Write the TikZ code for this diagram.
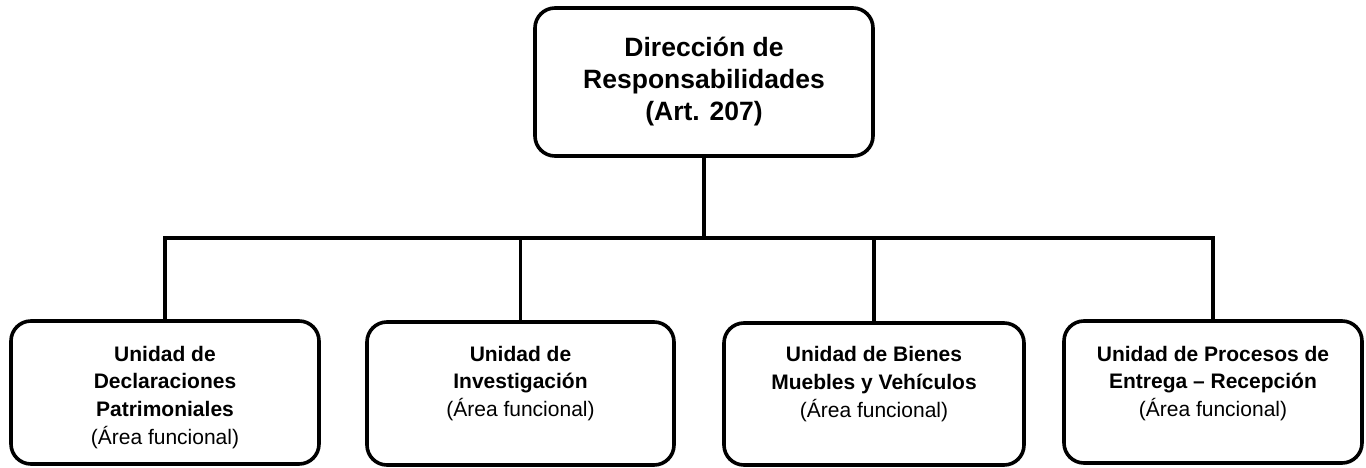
\documentclass[tikz,border=0pt]{standalone}
\usepackage{fontspec}
\setmainfont{Liberation Sans}
\begin{document}
\begin{tikzpicture}[x=1pt,y=-1pt,
  boxst/.style={draw=black, line width=3.6pt, rounded corners=20pt, inner sep=0pt},
  topfont/.style={font=\fontsize{26.5}{32}\selectfont\bfseries, align=center},
  unitfont/.style={font=\fontsize{21}{27.7}\selectfont, align=center, inner sep=0pt, anchor=north},
  conn/.style={line width=3.6pt, line join=miter}]
\useasboundingbox (0,0) rectangle (1366,468);
\fill[white] (0,0) rectangle (1366,468);

\node[boxst, topfont, minimum width=338pt, minimum height=148pt] (top) at (704,82)
  {Dirección de\\Responsabilidades\\(Art. 207)};

\node[boxst, minimum width=308pt, minimum height=143pt] (b1) at (165,392.5) {};
\node[boxst, minimum width=307pt, minimum height=143pt] (b2) at (520.5,393.5) {};
\node[boxst, minimum width=300pt, minimum height=142pt] (b3) at (874,394) {};
\node[boxst, minimum width=298pt, minimum height=142pt] (b4) at (1213,392) {};

\node[unitfont] (t1) at ([yshift=-26.5pt]b1.north)
  {\textbf{Unidad de}\\\textbf{Declaraciones}\\\textbf{Patrimoniales}\\(Área funcional)};
\node[unitfont] (t2) at ([yshift=-25.5pt]b2.north)
  {\textbf{Unidad de}\\\textbf{Investigación}\\(Área funcional)};
\node[unitfont] (t3) at ([yshift=-25pt]b3.north)
  {\textbf{Unidad de Bienes}\\\textbf{Muebles y Vehículos}\\(Área funcional)};
\node[unitfont] (t4) at ([yshift=-26.5pt]b4.north)
  {\textbf{Unidad de Procesos de}\\\textbf{Entrega – Recepción}\\(Área funcional)};

\coordinate (j) at (top.south |- 0,238);
\draw[conn] (top.south) -- (j);
\draw[conn] (b1.north) -- (b1.north |- j) -- (b4.north |- j) -- (b4.north);
\draw[conn] (b2.north) -- (b2.north |- j);
\draw[conn] (b3.north) -- (b3.north |- j);
\end{tikzpicture}
\end{document}
